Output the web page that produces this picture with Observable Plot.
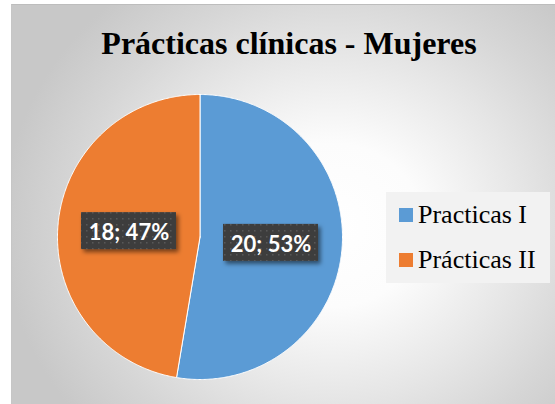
<!DOCTYPE html>
<html><head><meta charset="utf-8">
<script src="https://cdn.jsdelivr.net/npm/d3@7"></script>
<script src="https://cdn.jsdelivr.net/npm/@observablehq/plot@0.6"></script>
<style>
html,body{margin:0;padding:0;background:#fff;width:555px;height:404px;overflow:hidden;}
#wrap{position:relative;width:555px;height:404px;overflow:hidden;}
#bg{position:absolute;left:11px;top:4px;width:560px;height:410px;border-top:1px solid #bdbdbd;border-left:1px solid #c6c6c6;
 background:radial-gradient(ellipse 330px 300px at 320px 220px, #ffffff 0px, #fcfcfc 90px, #e6e6e6 190px, #d6d6d6 260px, #c8c8c8 330px);}
#chart{position:absolute;left:0;top:0;}
#overlay{position:absolute;left:0;top:0;}
</style></head><body>
<div id="wrap"><div id="bg"></div><div id="chart"></div><svg id="overlay" width="555" height="404"></svg></div>
<script>
const title = "Prácticas clínicas - Mujeres";
const categories = ["Practicas I", "Prácticas II"];
const values = [20, 18];
const colors = ["#5B9BD5", "#ED7D31"];

const total = d3.sum(values);
const arcs = d3.pie().sort(null).value(d => d.value)(categories.map((c, i) => ({category: c, value: values[i]})));

const slicePts = [];
arcs.forEach(p => {
  const c = p.data.category;
  slicePts.push({category: c, x: 0, y: 0});
  const n = Math.max(2, Math.ceil((p.endAngle - p.startAngle) / (Math.PI / 360)));
  for (let k = 0; k <= n; k++) {
    const a = p.startAngle + (p.endAngle - p.startAngle) * k / n;
    slicePts.push({category: c, x: Math.sin(a), y: Math.cos(a)});
  }
  slicePts.push({category: c, x: 0, y: 0});
});
const labelData = arcs.map(p => {
  const a = (p.startAngle + p.endAngle) / 2;
  return {category: p.data.category, x: 0.5 * Math.sin(a), y: 0.5 * Math.cos(a),
          label: `${p.data.value}; ${Math.round(p.data.value / total * 100)}%`};
});

const R = 142.5;              // pixel radius of the pie
const hw = 47.5 / R, hh = 18.5 / R; // label box half size in data units

const defs = () => {
  const d = d3.create("svg:defs");
  const pat = d.append("pattern").attr("id", "dots").attr("patternUnits", "userSpaceOnUse").attr("width", 6).attr("height", 6);
  pat.append("rect").attr("width", 6).attr("height", 6).attr("fill", "#3d3d3d");
  pat.append("rect").attr("x", 2).attr("y", 2).attr("width", 1.5).attr("height", 1.5).attr("fill", "#585858");
  const f = d.append("filter").attr("id", "shadow").attr("x", "-20%").attr("y", "-30%").attr("width", "150%").attr("height", "180%");
  f.append("feDropShadow").attr("dx", 2.5).attr("dy", 3).attr("stdDeviation", 2).attr("flood-color", "#000").attr("flood-opacity", 0.5);
  return d.node();
};

const plot = Plot.plot({
  width: 555, height: 404,
  marginLeft: 57, marginRight: 213, marginTop: 94, marginBottom: 25,
  style: {background: "transparent", overflow: "visible"},
  x: {domain: [-1, 1], axis: null},
  y: {domain: [-1, 1], axis: null},
  color: {domain: categories, range: colors},
  marks: [
    defs,
    Plot.line(slicePts, {x: "x", y: "y", z: "category", fill: "category", stroke: "white", strokeWidth: 1, strokeLinejoin: "round"}),
    Plot.rect(labelData, {x1: d => d.x - hw, x2: d => d.x + hw, y1: d => d.y - hh, y2: d => d.y + hh, fill: "url(#dots)"}),
    Plot.text(labelData, {x: "x", y: "y", text: "label", fill: "white", fontSize: 22, fontWeight: "bold", fontFamily: "Lato", dy: 2})
  ]
});
d3.select(plot).selectAll('g[aria-label="rect"]').attr("filter", "url(#shadow)");
document.getElementById("chart").appendChild(plot);

const ov = d3.select("#overlay");
ov.append("text").attr("x", 289).attr("y", 54).attr("text-anchor", "middle")
  .attr("font-family", "Liberation Serif, Times New Roman, serif").attr("font-weight", "bold").attr("font-size", 32)
  .attr("fill", "#000").text(title);
ov.append("rect").attr("x", 386).attr("y", 192).attr("width", 164).attr("height", 91).attr("fill", "#f2f2f2");
categories.forEach((c, i) => {
  const by = 222.5 + i * 45;
  ov.append("rect").attr("x", 399).attr("y", by - 14.5).attr("width", 14).attr("height", 14).attr("fill", colors[i]);
  ov.append("text").attr("x", 418).attr("y", by).attr("font-family", "Liberation Serif, Times New Roman, serif")
    .attr("font-size", 26).attr("fill", "#000").text(c);
});
</script>
</body></html>
